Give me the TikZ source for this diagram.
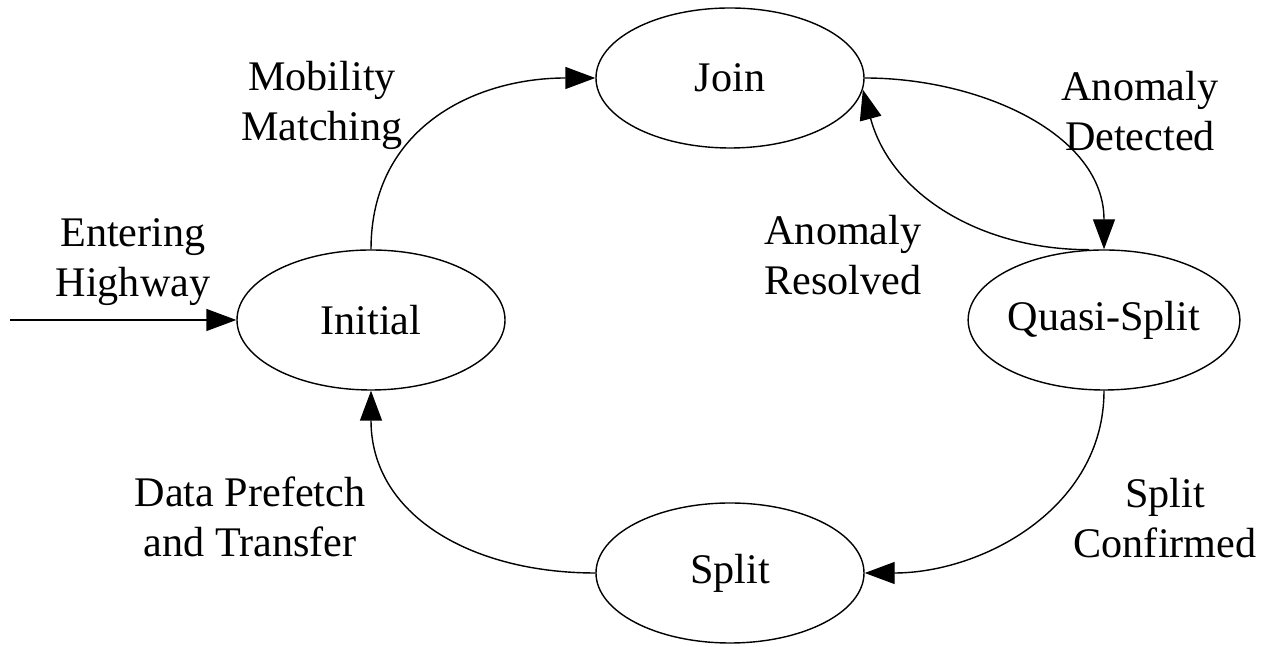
\documentclass[tikz,border=0pt]{standalone}
\usepackage{fontspec}
\setmainfont{Liberation Serif}
\usetikzlibrary{shapes.geometric,arrows.meta,positioning}
\tikzset{
    phase/.style={ellipse, draw, thin, minimum width=2.68cm, minimum height=1.40cm, inner sep=0pt, font=\fontsize{12}{14}\selectfont},
    trans/.style={thin, -{Triangle[length=3mm,width=2.2mm]}},
    tlabel/.style={align=center, inner sep=0pt, font=\fontsize{12}{14.2}\selectfont},
}

\begin{document}
\begin{tikzpicture}
    \useasboundingbox (0,0) rectangle (12.67,6.47);

    % states
    \node[phase] (Join)  at (7.30, 5.69) {Join};
    \node[phase] (Init)  at (3.71, 3.27) {Initial};
    \node[phase] (Quasi) at (11.04, 3.27) {Quasi-Split};
    \node[phase] (Split) at (7.30, 0.74) {Split};

    % entry
    \coordinate (entry) at (0.10, 3.27);
    \draw[trans] (entry) -- (Init.west);

    % transitions
    \draw[trans] (Init.north) to[out=90, in=180, looseness=1.1] (Join.west);
    \draw[trans] (Join.east) to[out=0, in=90] (Quasi.north);
    \draw[trans] (Quasi.102) to[out=180, in=-75] (Join.-5);
    \draw[trans] (Quasi.south) to[out=-90, in=0] (Split.east);
    \draw[trans] (Split.west) to[out=180, in=-90, looseness=1.1] (Init.south);

    % labels
    \node[tlabel] (lblEnter) at (1.33, 3.85) {Entering\\Highway};
    \node[tlabel] (lblMob)   at (3.22, 5.42) {Mobility\\Matching};
    \node[tlabel] (lblDet)   at (11.40, 5.36) {Anomaly\\Detected};
    \node[tlabel] (lblRes)   at (8.43, 3.92) {Anomaly\\Resolved};
    \node[tlabel] (lblConf)  at (11.65, 1.29) {Split\\Confirmed};
    \node[tlabel] (lblData)  at (2.50, 1.30) {Data Prefetch\\and Transfer};
\end{tikzpicture}
\end{document}
